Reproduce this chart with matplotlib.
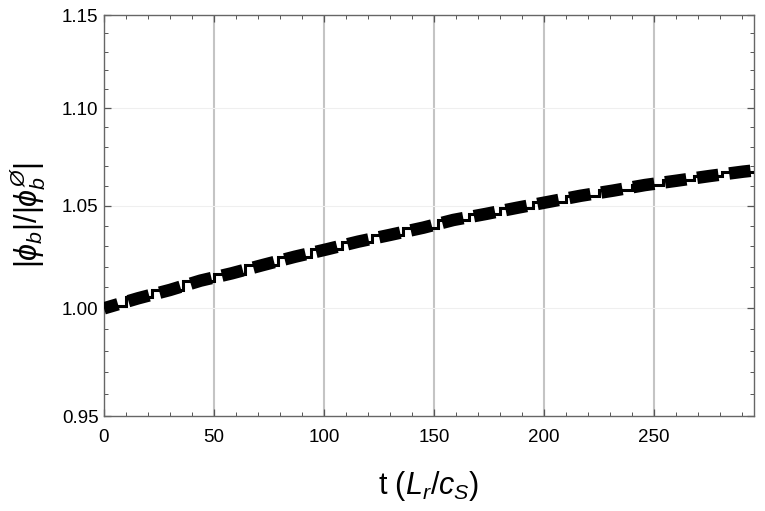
import matplotlib
matplotlib.use("Agg")
import matplotlib.pyplot as plt
from matplotlib.ticker import FixedLocator, FormatStrFormatter, NullFormatter

# ---- data ----
t_smooth = [0, 15.5, 30, 43.9, 58, 72.4, 86.8, 101.2, 115.6, 130, 145.2, 158.8,
            173.6, 187.9, 202.4, 216.7, 231.5, 245.9, 260.3, 275.5, 290.6, 295.5]
phi_smooth = [1.0000, 1.0048, 1.0088, 1.0133, 1.0168, 1.0209, 1.0249, 1.0285, 1.0323,
              1.0356, 1.0392, 1.0430, 1.0460, 1.0491, 1.0521, 1.0551, 1.0577, 1.0605,
              1.0627, 1.0651, 1.0673, 1.0679]

t_step = [0, 10, 22, 36, 50, 64, 79, 94, 108, 122, 136, 152, 166, 180, 195, 210,
          225, 240, 254, 268, 281, 295.5]
phi_step = [1.0010, 1.0055, 1.0088, 1.0130, 1.0166, 1.0208, 1.0248, 1.0285, 1.0320,
            1.0354, 1.0390, 1.0430, 1.0458, 1.0490, 1.0521, 1.0552, 1.0578, 1.0606,
            1.0629, 1.0650, 1.0670, 1.0670]

x_major = [0, 50, 100, 150, 200, 250]
x_minor = [v for v in range(0, 300, 10) if v % 50 != 0]
y_major = [0.95, 1.00, 1.05, 1.10, 1.15]
y_minor = [0.96, 0.97, 0.98, 0.99, 1.01, 1.02, 1.03, 1.04, 1.06, 1.07, 1.08, 1.09,
           1.11, 1.12, 1.13, 1.14]

plt.rcParams['font.family'] = ['Liberation Sans', 'DejaVu Sans']
plt.rcParams['mathtext.fontset'] = 'custom'
plt.rcParams['mathtext.rm'] = 'Liberation Sans'
plt.rcParams['mathtext.it'] = 'Liberation Sans:italic'
plt.rcParams['mathtext.bf'] = 'Liberation Sans:bold'
plt.rcParams['lines.scale_dashes'] = False

fig = plt.figure(figsize=(7.65, 5.11), dpi=100)
ax = fig.add_axes([104/765, 95/511, 650/765, 401/511])

ax.set_yscale('log')
ax.set_xlim(0, 295.5)
ax.set_ylim(0.95, 1.15)

# grid
for xv in x_major[1:]:
    ax.axvline(xv, color='#c4c4c4', lw=1.5, zorder=1)
for yv in y_major[1:-1]:
    ax.axhline(yv, color='#efefef', lw=0.8, zorder=1)

ax.plot(t_step, phi_step, drawstyle='steps-post', color='black', lw=2.2,
        zorder=3, solid_joinstyle='miter')
ax.plot(t_smooth, phi_smooth, color='black', lw=9.0,
        linestyle=(5.0, (15.5, 7.8)), dash_capstyle='butt', zorder=4)

ax.xaxis.set_major_locator(FixedLocator(x_major))
ax.xaxis.set_minor_locator(FixedLocator(x_minor))
ax.yaxis.set_major_locator(FixedLocator(y_major))
ax.yaxis.set_minor_locator(FixedLocator(y_minor))
ax.yaxis.set_major_formatter(FormatStrFormatter('%.2f'))
ax.yaxis.set_minor_formatter(NullFormatter())

ax.tick_params(which='both', direction='in', top=True, right=True, color='#555555',
               labelsize=13.5, labelcolor='black')
ax.tick_params(which='major', length=5, width=0.9)
ax.tick_params(which='minor', length=3, width=0.7)
ax.tick_params(axis='x', which='major', pad=9)
ax.tick_params(axis='y', which='major', pad=4)

for s in ax.spines.values():
    s.set_color('#666666')
    s.set_linewidth(1.0)

ax.set_xlabel(r'$\mathrm{t}\ (L_r/c_S)$', fontsize=22, labelpad=17)
ax.set_ylabel(r'$|\phi_b|/|\phi_b^{Ø}|$', fontsize=22, labelpad=10)

fig.savefig('out.png', dpi=100)
